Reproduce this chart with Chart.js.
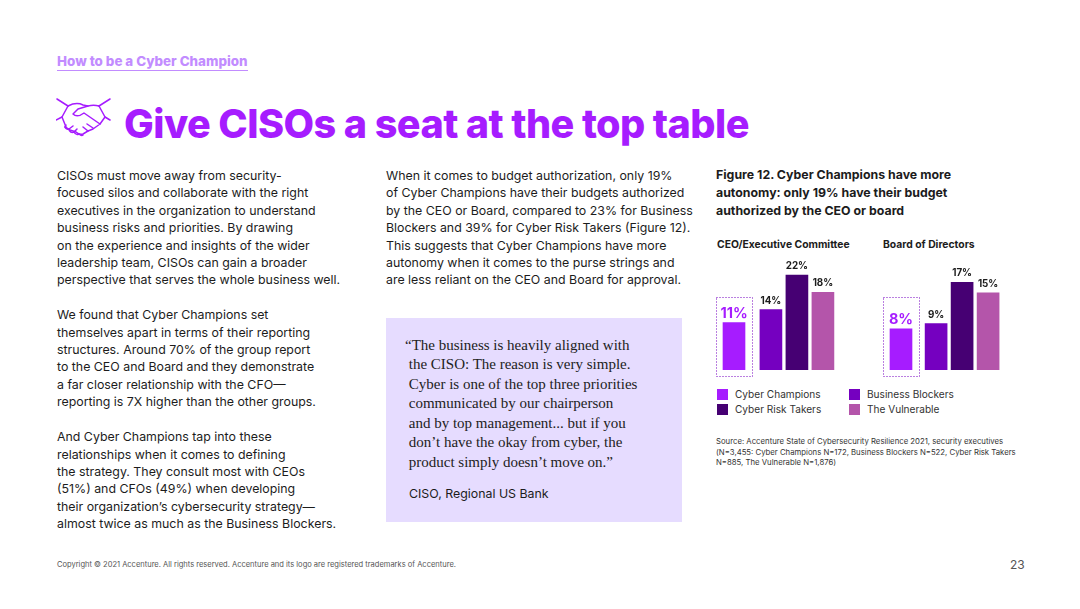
<!DOCTYPE html>
<html>
<head>
<meta charset="utf-8">
<title>Give CISOs a seat at the top table</title>
<script src="https://cdn.jsdelivr.net/npm/chart.js@4"></script>
<style>
  html, body { margin: 0; padding: 0; background: #fff; }
  #page { position: relative; width: 1080px; height: 609px; overflow: hidden; font-family: Inter, sans-serif; color: #1c1c1c; }
  #page > div, #page > canvas, #page > svg { position: absolute; white-space: nowrap; }
  .body { font-size: 12.37px; line-height: 17.4px; }
  .panel-title { font-size: 10.35px; font-weight: 700; }
  .swatch { width: 11px; height: 11px; }
  .legend { font-size: 10.1px; color: #333; }
</style>
</head>
<body>
<div id="page">
  <div style="left:57px;top:53px;font-size:13.4px;font-weight:800;color:#c28cff;border-bottom:1px solid #c28cff;padding-bottom:1px;">How to be a Cyber Champion</div>

  <svg style="left:56px;top:98px" width="56" height="40" viewBox="0 0 56 40" fill="none" stroke="#a61cff" stroke-width="1.5" stroke-linejoin="round" stroke-linecap="round">
    <path d="M1 1l11 7M54 1L43 8M0 22l6-3M54 22l-5-3"/>
    <path d="M12 8L6 19l4 10M43 8l6 11-5 7"/>
    <path d="M12 8c6-3 11-3 15-1l5 1c4-1 7-1 11 0"/>
    <path d="M32 8l-10 3-5 5c3 3 7 2 11-1l16 11-7 5-5 2-5 3c-3 1-5 0-7-2l-6-2-5-3"/>
    <path d="M10 27c-2 2 0 5 3 4 0 3 3 4 5 3 1 2 3 3 5 2 1 1 3 2 4 1M13 31l4-3M18 34l3-3M37 30l-6-4M32 33l-5-4"/>
  </svg>
  <div style="left:124px;top:97px;font-size:39.6px;font-weight:800;color:#a61cff;letter-spacing:-0.55px;line-height:54px;">Give CISOs a seat at the top table</div>

  <div class="body" style="left:57px;top:167px;">CISOs must move away from security-<br>focused silos and collaborate with the right<br>executives in the organization to understand<br>business risks and priorities. By drawing<br>on the experience and insights of the wider<br>leadership team, CISOs can gain a broader<br>perspective that serves the whole business well.<br><br>We found that Cyber Champions set<br>themselves apart in terms of their reporting<br>structures. Around 70% of the group report<br>to the CEO and Board and they demonstrate<br>a far closer relationship with the CFO—<br>reporting is 7X higher than the other groups.<br><br>And Cyber Champions tap into these<br>relationships when it comes to defining<br>the strategy. They consult most with CEOs<br>(51%) and CFOs (49%) when developing<br>their organization’s cybersecurity strategy—<br>almost twice as much as the Business Blockers.</div>

  <div class="body" style="left:386px;top:167px;">When it comes to budget authorization, only 19%<br>of Cyber Champions have their budgets authorized<br>by the CEO or Board, compared to 23% for Business<br>Blockers and 39% for Cyber Risk Takers (Figure 12).<br>This suggests that Cyber Champions have more<br>autonomy when it comes to the purse strings and<br>are less reliant on the CEO and Board for approval.</div>

  <div style="left:386px;top:318px;width:296px;height:204px;background:#e6dcff;"></div>
  <div style="left:405px;top:336px;font-family:'Liberation Serif',serif;font-size:15px;line-height:19.45px;color:#222;">“The business is heavily aligned with<br>&nbsp;the CISO: The reason is very simple.<br>&nbsp;Cyber is one of the top three priorities<br>&nbsp;communicated by our chairperson<br>&nbsp;and by top management... but if you<br>&nbsp;don’t have the okay from cyber, the<br>&nbsp;product simply doesn’t move on.”</div>
  <div style="left:409px;top:486px;font-size:12.37px;line-height:16px;">CISO, Regional US Bank</div>

  <div style="left:716px;top:166px;font-size:12.35px;font-weight:700;line-height:17.8px;">Figure 12. Cyber Champions have more<br>autonomy: only 19% have their budget<br>authorized by the CEO or board</div>

  <div class="panel-title" style="left:717px;top:238px;">CEO/Executive Committee</div>
  <div class="panel-title" style="left:883px;top:238px;">Board of Directors</div>

  <canvas id="ceoChart" width="140" height="135" style="left:710px;top:250px;width:140px;height:135px;"></canvas>
  <canvas id="boardChart" width="140" height="135" style="left:877px;top:250px;width:140px;height:135px;"></canvas>

  <div class="swatch" style="left:717px;top:389px;background:#a61cff;"></div>
  <div class="legend" style="left:735px;top:388px;">Cyber Champions</div>
  <div class="swatch" style="left:849px;top:389px;background:#7500c0;"></div>
  <div class="legend" style="left:867px;top:388px;">Business Blockers</div>
  <div class="swatch" style="left:717px;top:404px;background:#460073;"></div>
  <div class="legend" style="left:735px;top:403px;">Cyber Risk Takers</div>
  <div class="swatch" style="left:849px;top:404px;background:#b455aa;"></div>
  <div class="legend" style="left:867px;top:403px;">The Vulnerable</div>

  <div style="left:716px;top:436px;font-size:7.75px;line-height:10.5px;color:#333;">Source: Accenture State of Cybersecurity Resilience 2021, security executives<br>(N=3,455: Cyber Champions N=172, Business Blockers N=522, Cyber Risk Takers<br>N=885, The Vulnerable N=1,876)</div>

  <div style="left:57px;top:560px;font-size:7.53px;line-height:10px;color:#555;">Copyright © 2021 Accenture. All rights reserved. Accenture and its logo are registered trademarks of Accenture.</div>
  <div style="left:1010px;top:557px;font-size:12px;line-height:15px;color:#555;">23</div>
</div>

<script>
// groups of respondents, same order in both panels
const groups = ['Cyber Champions', 'Business Blockers', 'Cyber Risk Takers', 'The Vulnerable'];
const groupColors = ['#a61cff', '#7500c0', '#460073', '#b455aa'];

const ceoValues = [11, 14, 22, 18];
const boardValues = [8, 9, 17, 15];

// Draws the % labels and the dotted box round the first bar
const barLabels = {
  id: 'barLabels',
  afterDatasetsDraw(chart) {
    const ctx = chart.ctx;
    const bars = chart.getDatasetMeta(0).data;
    const values = chart.data.datasets[0].data;
    const base = bars[0].base;

    ctx.save();
    ctx.textAlign = 'center';
    bars.forEach((bar, i) => {
      if (i === 0) {
        ctx.fillStyle = groupColors[0];
        ctx.font = '700 14.5px Inter, sans-serif';
        ctx.fillText(values[i].y + '%', bar.x, bar.y - 5);
      } else {
        ctx.fillStyle = '#1c1c1c';
        ctx.font = '700 9.8px Inter, sans-serif';
        ctx.fillText(values[i].y + '%', bar.x, bar.y - 6);
      }
    });

    // dotted box
    ctx.strokeStyle = '#7500c0';
    ctx.lineWidth = 1;
    ctx.setLineDash([1, 2]);
    ctx.strokeRect(Math.round(bars[0].x - 18) + 0.5, 297 - 250 + 0.5, 36, base + 6 - 47);
    ctx.restore();
  }
};

function makePanel(id, values, yMax, gap) {
  new Chart(document.getElementById(id), {
    type: 'bar',
    data: {
      labels: groups,
      datasets: [{
        data: values.map((v, i) => ({ x: i === 0 ? 0 : i + gap, y: v })),
        backgroundColor: groupColors,
        barThickness: 22
      }]
    },
    options: {
      responsive: false,
      animation: false,
      layout: { padding: { top: 0, bottom: 15, left: 0, right: 0 } },
      plugins: { legend: { display: false }, tooltip: { enabled: false } },
      scales: {
        x: { type: 'linear', offset: false, display: false, min: -24 / 26, max: (140 - 24) / 26 },
        y: { display: false, min: 0, max: yMax }
      }
    },
    plugins: [barLabels]
  });
}

makePanel('ceoChart', ceoValues, 27.8, 0.42);
makePanel('boardChart', boardValues, 23.3, 0.35);
</script>
</body>
</html>
